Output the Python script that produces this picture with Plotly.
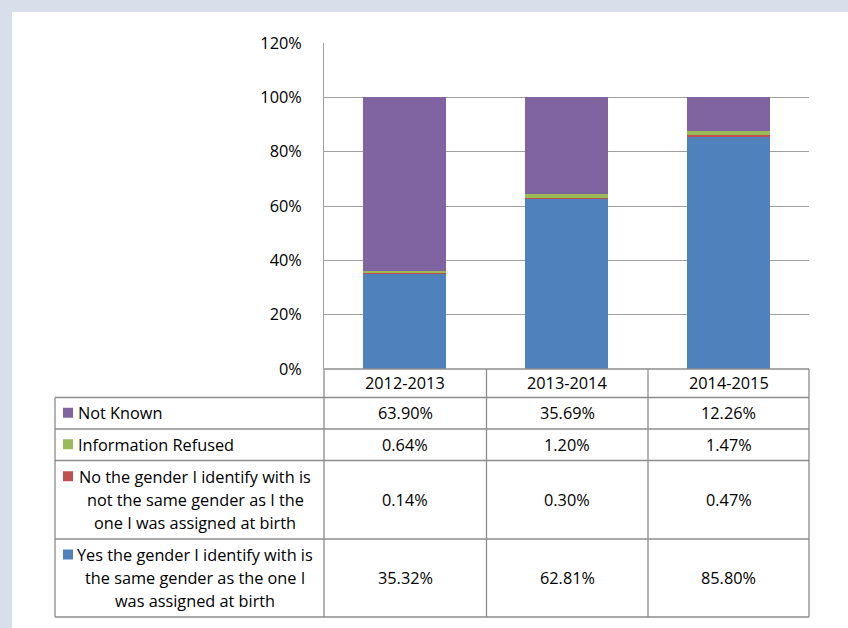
import plotly.graph_objects as go

# ---------------- data ----------------
categories = ["2012-2013", "2013-2014", "2014-2015"]
yes_same = [35.32, 62.81, 85.80]
no_not_same = [0.14, 0.30, 0.47]
info_refused = [0.64, 1.20, 1.47]
not_known = [63.90, 35.69, 12.26]

label_yes = ["Yes the gender I identify with is", "the same gender as the one I", "was assigned at birth"]
label_no = ["No the gender I identify with is", "not the same gender as I the", "one I was assigned at birth"]
label_refused = ["Information Refused"]
label_not_known = ["Not Known"]

y_ticks = [0, 0.2, 0.4, 0.6, 0.8, 1.0, 1.2]

# ---------------- styling ----------------
W, H = 848, 628
FONT = "Open Sans, Noto Sans, sans-serif"
FS = 16.3
BLUE, RED, GREEN, PURPLE = "#4F81BD", "#C0504D", "#9BBB59", "#8064A2"
LINE = "#8C8C8C"
GRID = "#A0A0A0"


def px(x):
    return x / W


def py(y):
    return 1 - y / H


x_left, x_right = 324, 809
y_top, y_zero = 43, 369

series = [
    (label_yes, yes_same, BLUE),
    (label_no, no_not_same, RED),
    (label_refused, info_refused, GREEN),
    (label_not_known, not_known, PURPLE),
]

fig = go.Figure()
for lab, vals, col in series:
    fig.add_trace(go.Bar(
        x=categories, y=[v / 100 for v in vals], name=" ".join(lab),
        marker=dict(color=col, line=dict(width=0)), width=0.515,
        showlegend=False, hoverinfo="skip"))

shapes = []
annotations = []

# white panel over grey background
shapes.append(dict(type="rect", xref="paper", yref="paper", x0=px(12), x1=1, y0=0, y1=py(12),
                   fillcolor="white", line=dict(width=0), layer="below"))

# table geometry
col_x = [55, 324, 486.5, 648, 809]
row_y = [369, 397.5, 429, 460.5, 539, 617]


def hline(x0, x1, y):
    shapes.append(dict(type="line", xref="paper", yref="paper", x0=px(x0), x1=px(x1),
                       y0=py(y), y1=py(y), line=dict(color=LINE, width=1.3)))


def vline(x, y0, y1):
    shapes.append(dict(type="line", xref="paper", yref="paper", x0=px(x), x1=px(x),
                       y0=py(y0), y1=py(y1), line=dict(color=LINE, width=1.3)))


hline(324, 809, row_y[0])
for x in col_x[1:]:
    vline(x, row_y[0], row_y[-1])
vline(col_x[0], row_y[1], row_y[-1])
for y in row_y[1:]:
    hline(col_x[0], col_x[-1], y)

col_centers = [(col_x[i] + col_x[i + 1]) / 2 for i in range(1, 4)]
for cx, cat in zip(col_centers, categories):
    annotations.append(dict(x=px(cx), y=py(383), xref="paper", yref="paper", text=cat,
                            showarrow=False, xanchor="center", yanchor="middle",
                            font=dict(family=FONT, size=FS, color="black")))

table_rows = [series[3], series[2], series[1], series[0]]
for i, (lab, vals, col) in enumerate(table_rows):
    top, bot = row_y[i + 1], row_y[i + 2]
    mid = (top + bot) / 2
    n = len(lab)
    spacing = 23
    first = mid - spacing * (n - 1) / 2
    sq_c = first
    shapes.append(dict(type="rect", xref="paper", yref="paper", x0=px(63), x1=px(73),
                       y0=py(sq_c - 5.5), y1=py(sq_c + 4.5), fillcolor=col, line=dict(width=0)))
    for j, line_txt in enumerate(lab):
        ly = first + j * spacing
        if n == 1:
            annotations.append(dict(x=px(76), y=py(ly), xref="paper", yref="paper", text=line_txt,
                                    showarrow=False, xanchor="left", yanchor="middle",
                                    font=dict(family=FONT, size=FS, color="black")))
        else:
            annotations.append(dict(x=px(195), y=py(ly), xref="paper", yref="paper", text=line_txt,
                                    showarrow=False, xanchor="center", yanchor="middle",
                                    font=dict(family=FONT, size=FS, color="black")))
    for cx, v in zip(col_centers, vals):
        annotations.append(dict(x=px(cx), y=py(mid), xref="paper", yref="paper", text=f"{v:.2f}%",
                                showarrow=False, xanchor="center", yanchor="middle",
                                font=dict(family=FONT, size=FS, color="black")))

fig.update_layout(
    width=W, height=H,
    margin=dict(l=0, r=0, t=0, b=0, pad=0, autoexpand=False),
    paper_bgcolor="#D9DFEA",
    plot_bgcolor="white",
    barmode="stack",
    showlegend=False,
    shapes=shapes,
    annotations=annotations,
    xaxis=dict(domain=[px(x_left), px(x_right)], range=[-0.5, 2.5], showticklabels=False,
               showgrid=False, zeroline=False, showline=False, ticks="", automargin=False),
    yaxis=dict(domain=[py(y_zero), py(y_top)], range=[0, 1.2006], tickvals=y_ticks,
               tickformat=".0%", showgrid=True, gridcolor=GRID, gridwidth=1,
               showline=True, linecolor=GRID, linewidth=1, zeroline=False, ticks="",
               ticklabelstandoff=18, automargin=False,
               tickfont=dict(family=FONT, size=FS, color="black")),
    font=dict(family=FONT, size=FS, color="black"),
)

post = (
    "document.documentElement.style.margin='0';"
    "document.body.style.margin='0';"
    "document.body.style.overflow='hidden';"
    "document.documentElement.style.overflow='hidden';"
    "var gd=document.getElementById('{plot_id}');"
    "gd.style.position='fixed';gd.style.left='0px';gd.style.top='0px';"
)
fig.write_html("out.html", config={"displayModeBar": False}, post_script=post)
